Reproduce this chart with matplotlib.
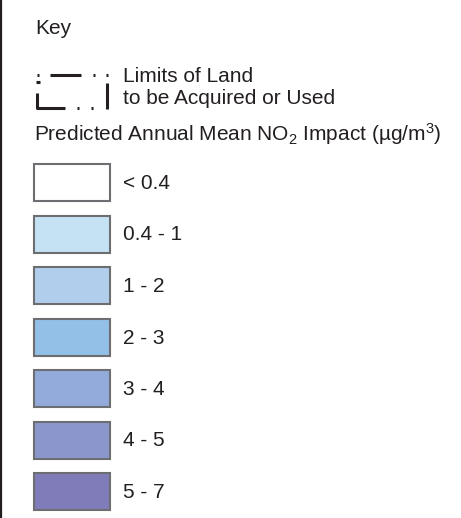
import matplotlib
matplotlib.use('Agg')
import matplotlib.pyplot as plt
from matplotlib.patches import Rectangle

plt.rcParams['font.family'] = ['Liberation Sans', 'DejaVu Sans']
plt.rcParams['mathtext.default'] = 'regular'

# legend classes and their fill colours
labels = ['< 0.4', '0.4 - 1', '1 - 2', '2 - 3', '3 - 4', '4 - 5', '5 - 7']
colors = ['#ffffff', '#c5e2f5', '#b1cfec', '#93c0e6', '#92abdb', '#8b97cc', '#807cb9']

title = 'Key'
boundary_label = ['Limits of Land', 'to be Acquired or Used']
heading = r'Predicted Annual Mean NO$_2$ Impact (µg/m$^3$)'

txt = '#231f20'
fs = 15
fig = plt.figure(figsize=(4.61, 5.18), dpi=100)
ax = fig.add_axes([0, 0, 1, 1])
ax.set_xlim(0, 461)
ax.set_ylim(518, 0)
ax.axis('off')

# left frame line
ax.plot([1, 1], [0, 518], color=txt, lw=1.6)

ax.text(35, 28, title, fontsize=fs, color=txt, va='center')

# dashed boundary symbol
lw = 2.2
ax.plot([50, 81], [75, 75], color=txt, lw=lw, solid_capstyle='butt')
for x in [38, 94, 107]:
    ax.plot([x - 1, x + 1], [75, 75], color=txt, lw=lw, solid_capstyle='butt')
ax.plot([36, 40], [82, 82], color=txt, lw=lw, solid_capstyle='butt')
ax.plot([37, 37, 65], [93, 107.5, 107.5], color=txt, lw=lw, solid_capstyle='butt')
for x in [78, 92]:
    ax.plot([x - 1, x + 1], [107.5, 107.5], color=txt, lw=lw, solid_capstyle='butt')
ax.plot([107, 107], [83, 108.5], color=txt, lw=lw, solid_capstyle='butt')

ax.text(123, 76, boundary_label[0], fontsize=fs, color=txt, va='center')
ax.text(123, 99, boundary_label[1], fontsize=fs, color=txt, va='center')
ax.text(34, 134, heading, fontsize=fs, color=txt, va='center')

# colour boxes
top0, pitch, bw, bh = 164, 51.5, 76, 37
for i, (lab, c) in enumerate(zip(labels, colors)):
    y = top0 + i * pitch
    ax.add_patch(Rectangle((34, y), bw, bh, facecolor=c, edgecolor='#6d6e71', lw=1.5))
    ax.text(123, y + bh / 2 + 1, lab, fontsize=fs, color=txt, va='center')

fig.savefig('out.png', dpi=100)
